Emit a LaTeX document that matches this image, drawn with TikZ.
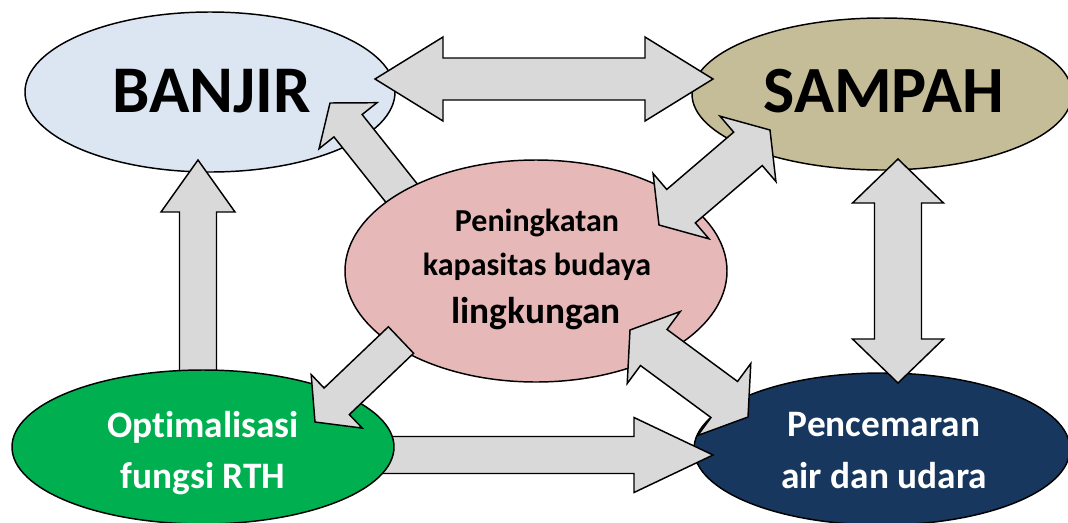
\documentclass[tikz,border=0pt]{standalone}
\usepackage{fontspec}
\setmainfont{Carlito}[RawFeature=-liga]
\usetikzlibrary{shapes.geometric,calc}
\definecolor{cblue}{HTML}{DCE6F2}
\definecolor{ctan}{HTML}{C4BD97}
\definecolor{cpink}{HTML}{E6B9B8}
\definecolor{cgreen}{HTML}{00B050}
\definecolor{cnavy}{HTML}{17375E}
\definecolor{cgray}{HTML}{D9D9D9}
\tikzset{
  blob/.style={ellipse, draw=black, line width=1.1pt, inner sep=0pt},
  blockarrow/.style={draw=black, fill=cgray, line width=1.1pt, line join=miter},
  lbl/.style={anchor=base, inner sep=0pt, font=\bfseries},
}
% single block arrow: #1 start, #2 end, #3 shaft half width, #4 head half width, #5 head length (px)
\newcommand{\sarrow}[5]{%
  \coordinate (hb) at ($(#2)!#5*0.75pt!(#1)$);
  \draw[blockarrow] ($(#1)!#3*0.75pt!90:(#2)$) -- ($(hb)!#3*0.75pt!90:(#2)$) -- ($(hb)!#4*0.75pt!90:(#2)$) -- (#2)
    -- ($(hb)!#4*0.75pt!-90:(#2)$) -- ($(hb)!#3*0.75pt!-90:(#2)$) -- ($(#1)!#3*0.75pt!-90:(#2)$) -- cycle;}
% double block arrow
\newcommand{\darrow}[5]{%
  \coordinate (ha) at ($(#1)!#5*0.75pt!(#2)$);
  \coordinate (hb) at ($(#2)!#5*0.75pt!(#1)$);
  \draw[blockarrow] (#1) -- ($(ha)!#4*0.75pt!90:(#2)$) -- ($(ha)!#3*0.75pt!90:(#2)$) -- ($(hb)!#3*0.75pt!90:(#2)$)
    -- ($(hb)!#4*0.75pt!90:(#2)$) -- (#2) -- ($(hb)!#4*0.75pt!-90:(#2)$) -- ($(hb)!#3*0.75pt!-90:(#2)$)
    -- ($(ha)!#3*0.75pt!-90:(#2)$) -- ($(ha)!#4*0.75pt!-90:(#2)$) -- cycle;}
\begin{document}
\begin{tikzpicture}[x=0.75pt, y=-0.75pt]
\useasboundingbox (0,0) rectangle (1068,522);
\clip (0,0) rectangle (1068,522);
% outer ellipses
\node[blob, fill=cblue, minimum width=370*0.75pt, minimum height=160*0.75pt] (banjir) at (210,92) {};
\node[blob, fill=ctan, minimum width=380*0.75pt, minimum height=152*0.75pt] (sampah) at (882,94) {};
\node[blob, fill=cnavy, minimum width=376*0.75pt, minimum height=152*0.75pt] (cemar) at (882,449) {};
% arrows from green ellipse (tails hidden under it)
\coordinate (upS) at (198,395); \coordinate (upE) at (198,160);
\sarrow{upS}{upE}{18.5}{37}{52}
\coordinate (rS) at (380,455); \coordinate (rE) at (713,455);
\sarrow{rS}{rE}{18.5}{37.5}{79}
\node[blob, fill=cgreen, minimum width=382*0.75pt, minimum height=154*0.75pt] (rth) at (203,447) {};
% horizontal and vertical double arrows
\coordinate (hS) at (375,79); \coordinate (hE) at (713,79);
\darrow{hS}{hE}{21}{42}{68}
\coordinate (vS) at (898,159); \coordinate (vE) at (898,383);
\darrow{vS}{vE}{23.5}{45.5}{44}
% centre to BANJIR (tail under centre ellipse)
\coordinate (bS) at (411,205); \coordinate (bE) at (330,103);
\sarrow{bS}{bE}{18}{37}{29}
% centre ellipse
\node[blob, fill=cpink, minimum width=382*0.75pt, minimum height=222*0.75pt] (pusat) at (536,271) {};
% diagonal arrows over centre ellipse
\coordinate (sS) at (659,225); \coordinate (sE) at (770,130);
\darrow{sS}{sE}{22}{43}{29}
\coordinate (oS) at (401,340); \coordinate (oE) at (315,422);
\sarrow{oS}{oE}{18.3}{37}{30}
\coordinate (pS) at (630,330); \coordinate (pE) at (748,417);
\darrow{pS}{pE}{22.4}{44.7}{29.5}
% labels
\node[lbl, font=\bfseries\fontsize{50}{60}\selectfont] (tbanjir) at (212,112) {BANJIR};
\node[lbl, font=\bfseries\fontsize{49.5}{60}\selectfont] (tsampah) at (884,112) {SAMPAH};
\node[lbl, font=\bfseries\fontsize{24}{29}\selectfont] (tp1) at (537,231) {Peningkatan};
\node[lbl, font=\bfseries\fontsize{24}{29}\selectfont] (tp2) at (537,275) {kapasitas budaya};
\node[lbl, font=\bfseries\fontsize{28}{33}\selectfont] (tp3) at (536,323) {lingkungan};
\node[lbl, font=\bfseries\fontsize{28}{33}\selectfont, text=white] (tr1) at (203,437) {Optimalisasi};
\node[lbl, font=\bfseries\fontsize{28}{33}\selectfont, text=white] (tr2) at (203,488) {fungsi RTH};
\node[lbl, font=\bfseries\fontsize{28}{33}\selectfont, text=white] (tc1) at (884,436) {Pencemaran};
\node[lbl, font=\bfseries\fontsize{28}{33}\selectfont, text=white] (tc2) at (884,488) {air dan udara};
\end{tikzpicture}
\end{document}
